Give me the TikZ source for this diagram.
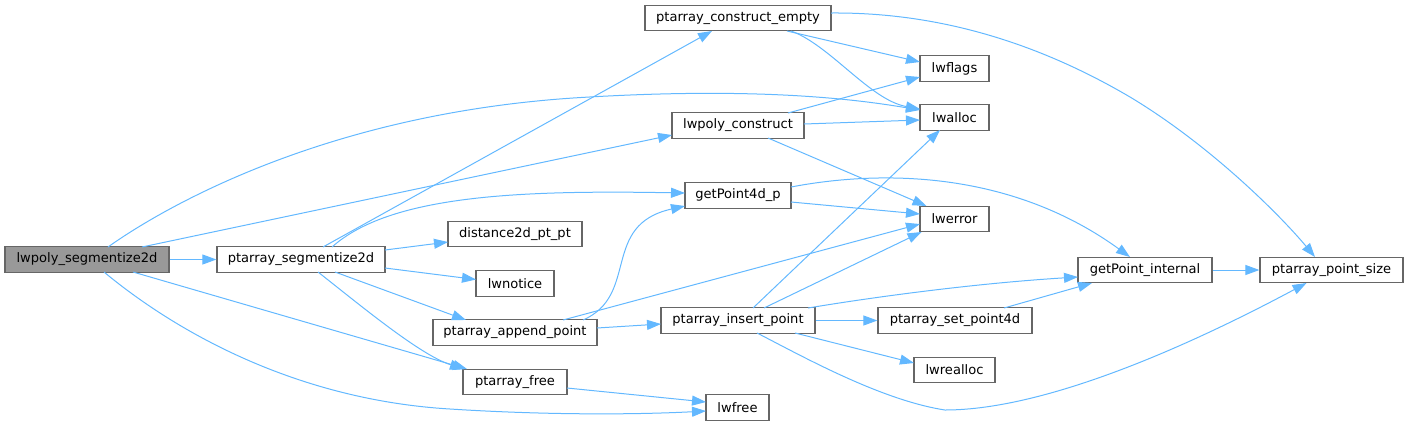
\documentclass[tikz,border=0pt]{standalone}
\usepackage{fontspec}
\setmainfont{DejaVu Sans}
\usetikzlibrary{arrows.meta,calc}
\definecolor{edgeblue}{HTML}{63B8FF}
\definecolor{boxborder}{HTML}{666666}
\definecolor{mainfill}{HTML}{999999}
\tikzset{
  fn/.style={draw=boxborder, line width=1.2bp, fill=white, rectangle, inner sep=0pt,
    minimum height=25.5bp, font=\fontsize{13.1pt}{15pt}\selectfont, text=black},
  mainfn/.style={fn, fill=mainfill},
  call/.style={draw=edgeblue, line width=1bp, -{Triangle[length=14bp,width=10bp]}},
}
\begin{document}
\begin{tikzpicture}[x=1bp,y=-1bp]
\useasboundingbox (0,0) rectangle (1408,425);
% nodes
\node[mainfn, minimum width=164bp] (A) at (87,259.5) {lwpoly\_segmentize2d};
\node[fn, minimum width=168bp] (B) at (301,259.5) {ptarray\_segmentize2d};
\node[fn, minimum width=186bp] (C) at (738,18) {ptarray\_construct\_empty};
\node[fn, minimum width=132bp] (D) at (738,125.5) {lwpoly\_construct};
\node[fn, minimum width=106bp] (E) at (738,195.5) {getPoint4d\_p};
\node[fn, minimum width=134bp] (F) at (515,234) {distance2d\_pt\_pt};
\node[fn, minimum width=78bp] (G) at (515,283.5) {lwnotice};
\node[fn, minimum width=164bp] (H) at (515,332.5) {ptarray\_append\_point};
\node[fn, minimum width=104bp] (I) at (515,382) {ptarray\_free};
\node[fn, minimum width=63bp] (J) at (737.5,407.5) {lwfree};
\node[fn, minimum width=154bp] (K) at (738,320.5) {ptarray\_insert\_point};
\node[fn, minimum width=69bp] (L) at (954.5,68.5) {lwflags};
\node[fn, minimum width=69bp] (M) at (954.5,117.5) {lwalloc};
\node[fn, minimum width=69bp] (N) at (954.5,219) {lwerror};
\node[fn, minimum width=154bp] (O) at (955,320.5) {ptarray\_set\_point4d};
\node[fn, minimum width=81bp] (P) at (954.5,370) {lwrealloc};
\node[fn, minimum width=134bp] (Q) at (1145,270) {getPoint\_internal};
\node[fn, minimum width=143bp] (R) at (1331.5,270) {ptarray\_point\_size};
% edges
\draw[call] (A.east) -- (B.west);
\draw[call] ($(A)+(55,-12.5)$) -- ($(D)+(-66,9.5)$);
\draw[call] ($(A)+(21,-12.5)$) .. controls (160,210) and (320,115) .. (573,98) .. controls (760,86) and (860,100) .. ($(M)+(-34.5,-7.5)$);
\draw[call] ($(A)+(46,12.5)$) -- ($(I)+(-48,-13)$);
\draw[call] ($(A)+(17,12.5)$) .. controls (180,335) and (300,400) .. (450,409) .. controls (560,416) and (650,414) .. ($(J)+(-31.5,3.5)$);
\draw[call] ($(B)+(22,-12.5)$) -- ($(C)+(-26,13)$);
\draw[call] ($(B)+(31,-12.5)$) .. controls (390,195) and (520,190) .. ($(E)+(-53,-2.5)$);
\draw[call] ($(B)+(84,-9.5)$) -- ($(F)+(-67,8)$);
\draw[call] ($(B)+(84,8.5)$) -- ($(G)+(-39,-4)$);
\draw[call] ($(B)+(34,12.5)$) -- ($(H)+(-49,-12.5)$);
\draw[call] ($(B)+(17,12.5)$) .. controls (360,305) and (420,355) .. ($(I)+(-51,-13)$);
\draw[call] ($(C)+(49,13)$) -- ($(L)+(-34.5,-6.5)$);
\draw[call] ($(C)+(53,13)$) .. controls (830,45) and (870,100) .. ($(M)+(-34.5,-8.5)$);
\draw[call] ($(C)+(93,-5)$) .. controls (950,12) and (1050,50) .. (1130,97) .. controls (1210,145) and (1280,215) .. ($(R)+(-16.5,-13)$);
\draw[call] ($(D)+(50,-12.5)$) -- ($(L)+(-34.5,8.5)$);
\draw[call] ($(D)+(66,-1.5)$) -- ($(M)+(-34.5,2.5)$);
\draw[call] ($(D)+(30,12.5)$) -- ($(N)+(-28,-13)$);
\draw[call] ($(E)+(53,6.5)$) -- ($(N)+(-34.5,-5)$);
\draw[call] ($(E)+(53,-8.5)$) .. controls (880,170) and (1010,170) .. ($(Q)+(-15,-13)$);
\draw[call] ($(H)+(68,-12.5)$) .. controls (640,295) and (600,225) .. ($(E)+(-53,10.5)$);
\draw[call] ($(H)+(48,-12.5)$) -- ($(N)+(-34.5,5)$);
\draw[call] ($(H)+(82,-4.5)$) -- ($(K)+(-77,3.5)$);
\draw[call] ($(K)+(15,-12.5)$) -- ($(M)+(-14.5,12.5)$);
\draw[call] ($(K)+(26,-12.5)$) -- ($(N)+(-33,13)$);
\draw[call] ($(K)+(70,-12.5)$) .. controls (880,296) and (980,283) .. ($(Q)+(-67,7)$);
\draw[call] (K.east) -- (O.west);
\draw[call] ($(K)+(57,12.5)$) -- ($(P)+(-40.5,-7)$);
\draw[call] ($(K)+(19,12.5)$) .. controls (800,355) and (880,400) .. (945,410) .. controls (1050,410) and (1200,340) .. ($(R)+(-25,13)$);
\draw[call] ($(O)+(49,-12.5)$) -- ($(Q)+(-53,13)$);
\draw[call] (Q.east) -- (R.west);
\draw[call] ($(I)+(52,6)$) -- ($(J)+(-31.5,-5.5)$);
\end{tikzpicture}
\end{document}
